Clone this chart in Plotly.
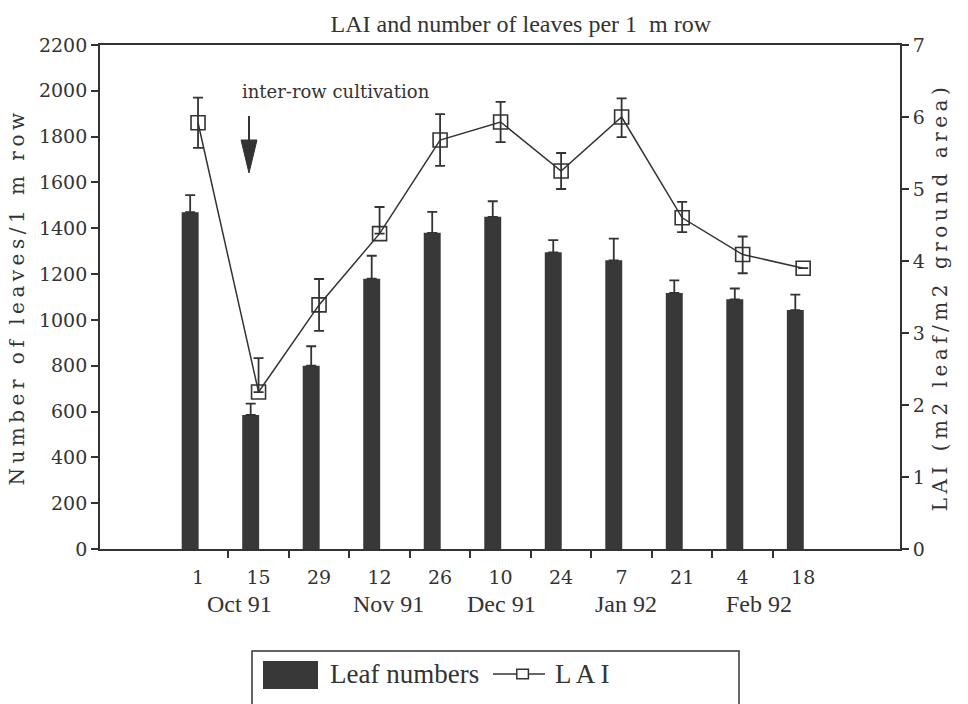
import plotly.graph_objects as go

# Sampling dates (day of month) and the month labels written under them
days = ["1", "15", "29", "12", "26", "10", "24", "7", "21", "4", "18"]
months = ["Oct 91", "Nov 91", "Dec 91", "Jan 92", "Feb 92"]
month_pos = [0.69, 3.14, 5.02, 7.07, 9.27]

# Leaf numbers per 1 m row, with upper error
leaves = [1470, 585, 800, 1180, 1380, 1450, 1295, 1260, 1118, 1090, 1043]
leaves_err = [75, 50, 85, 100, 92, 68, 53, 95, 55, 47, 67]

# Leaf area index with upper / lower errors
lai = [5.92, 2.18, 3.39, 4.38, 5.68, 5.93, 5.25, 6.00, 4.60, 4.09, 3.90]
lai_err_plus = [0.35, 0.47, 0.36, 0.37, 0.36, 0.28, 0.25, 0.26, 0.22, 0.25, 0.0]
lai_err_minus = [0.35, 0.0, 0.36, 0.0, 0.36, 0.28, 0.25, 0.28, 0.20, 0.26, 0.0]

pos = list(range(len(days)))
ink = "#333333"
bar_col = "#383838"
serif = "DejaVu Serif"
times = "Liberation Serif"

fig = go.Figure()

fig.add_trace(go.Bar(
    x=pos, y=leaves, name="Leaf numbers",
    offset=-0.27, width=0.28,
    marker=dict(color=bar_col, line=dict(width=0)),
    error_y=dict(type="data", array=leaves_err, arrayminus=[0] * len(leaves),
                 symmetric=False, color=ink, thickness=1.8, width=5),
    showlegend=False,
))

fig.add_trace(go.Scatter(
    x=pos, y=lai, name="L A I", yaxis="y2", mode="lines+markers",
    line=dict(color=ink, width=1.5),
    marker=dict(symbol="square-open", size=14, color=ink, line=dict(width=1.6)),
    error_y=dict(type="data", array=lai_err_plus, arrayminus=lai_err_minus,
                 symmetric=False, color=ink, thickness=1.8, width=5),
    showlegend=False,
))

fig.update_layout(
    width=968, height=704,
    margin=dict(l=100, r=68, t=45, b=155),
    paper_bgcolor="white", plot_bgcolor="white",
    font=dict(family=serif, size=19, color=ink),
    title=dict(text="LAI and number of leaves per 1  m row",
               font=dict(family=times, size=24, color=ink),
               xref="paper", x=0.526, xanchor="center",
               yref="container", y=1 - 24 / 704, yanchor="middle"),
    xaxis=dict(
        range=[-1.62, 11.6], showgrid=False, zeroline=False,
        showline=True, linecolor=ink, linewidth=1.8, mirror=True,
        tickmode="array", tickvals=pos, ticktext=days, ticks="",
        ticklabelstandoff=10,
        tickfont=dict(family=serif, size=19, color=ink),
        minor=dict(tickmode="array", tickvals=[p + 0.5 for p in pos[:-1]],
                   ticks="outside", ticklen=7, tickwidth=1.5, tickcolor=ink,
                   showgrid=False),
    ),
    yaxis=dict(
        range=[0, 2200], dtick=200, showgrid=False, zeroline=False,
        showline=True, linecolor=ink, linewidth=1.8,
        ticks="outside", ticklen=7, tickwidth=1.5, tickcolor=ink,
        tickfont=dict(family=serif, size=19, color=ink),
        title=dict(text="Number of leaves/1 m row", standoff=9,
                   font=dict(family=serif, size=20, color=ink)),
    ),
    yaxis2=dict(
        range=[0, 7], dtick=1, overlaying="y", side="right",
        showgrid=False, zeroline=False,
        showline=True, linecolor=ink, linewidth=1.8,
        ticks="outside", ticklen=7, tickwidth=1.5, tickcolor=ink,
        tickfont=dict(family=serif, size=19, color=ink),
        title=dict(text="LAI (m2 leaf/m2 ground area)", standoff=9,
                   font=dict(family=serif, size=20, color=ink)),
    ),
)

# Month names under the day labels
for m, xm in zip(months, month_pos):
    fig.add_annotation(x=xm, xref="x", y=-0.109, yref="paper", text=m,
                       showarrow=False, xanchor="center", yanchor="middle",
                       font=dict(family=times, size=24, color=ink))

# Cultivation note with a downward arrow
fig.add_annotation(x=0.175, xref="paper", y=0.9087, yref="paper",
                   text="inter-row cultivation", showarrow=False,
                   xanchor="left", yanchor="middle",
                   font=dict(family=serif, size=18, color=ink))
fig.add_shape(type="line", xref="paper", yref="paper",
              x0=0.18625, x1=0.18625, y0=0.859, y1=0.80,
              line=dict(color=ink, width=2))
fig.add_shape(type="path", xref="paper", yref="paper",
              path="M 0.1763 0.8115 L 0.1962 0.8115 L 0.18625 0.746 Z",
              fillcolor=ink, line=dict(color=ink, width=1))

# Legend box drawn below the axes
fig.add_shape(type="rect", xref="paper", yref="paper",
              x0=0.19, x1=0.79875, y0=-0.2024, y1=-0.40,
              line=dict(color=ink, width=1.5), fillcolor="rgba(0,0,0,0)")
fig.add_shape(type="rect", xref="paper", yref="paper",
              x0=0.20375, x1=0.2725, y0=-0.222, y1=-0.278,
              fillcolor=bar_col, line=dict(width=0))
fig.add_annotation(x=0.285, xref="paper", y=-0.248, yref="paper",
                   text="Leaf numbers", showarrow=False,
                   xanchor="left", yanchor="middle",
                   font=dict(family=times, size=27, color=ink))
fig.add_shape(type="line", xref="paper", yref="paper",
              x0=0.49125, x1=0.55625, y0=-0.248, y1=-0.248,
              line=dict(color=ink, width=1.5))
fig.add_shape(type="rect", xref="paper", yref="paper",
              x0=0.5210, x1=0.5355, y0=-0.2385, y1=-0.2575,
              fillcolor="white", line=dict(color=ink, width=1.5))
fig.add_annotation(x=0.56625, xref="paper", y=-0.248, yref="paper",
                   text="L A I", showarrow=False,
                   xanchor="left", yanchor="middle",
                   font=dict(family=times, size=27, color=ink))

# Wider letter spacing for the two axis titles
spacing_css = (
    "var s=document.createElement('style');"
    "s.textContent='.ytitle,.y2title{letter-spacing:4.5px}';"
    "document.head.appendChild(s);"
)

fig.write_html("out.html", post_script=spacing_css)
